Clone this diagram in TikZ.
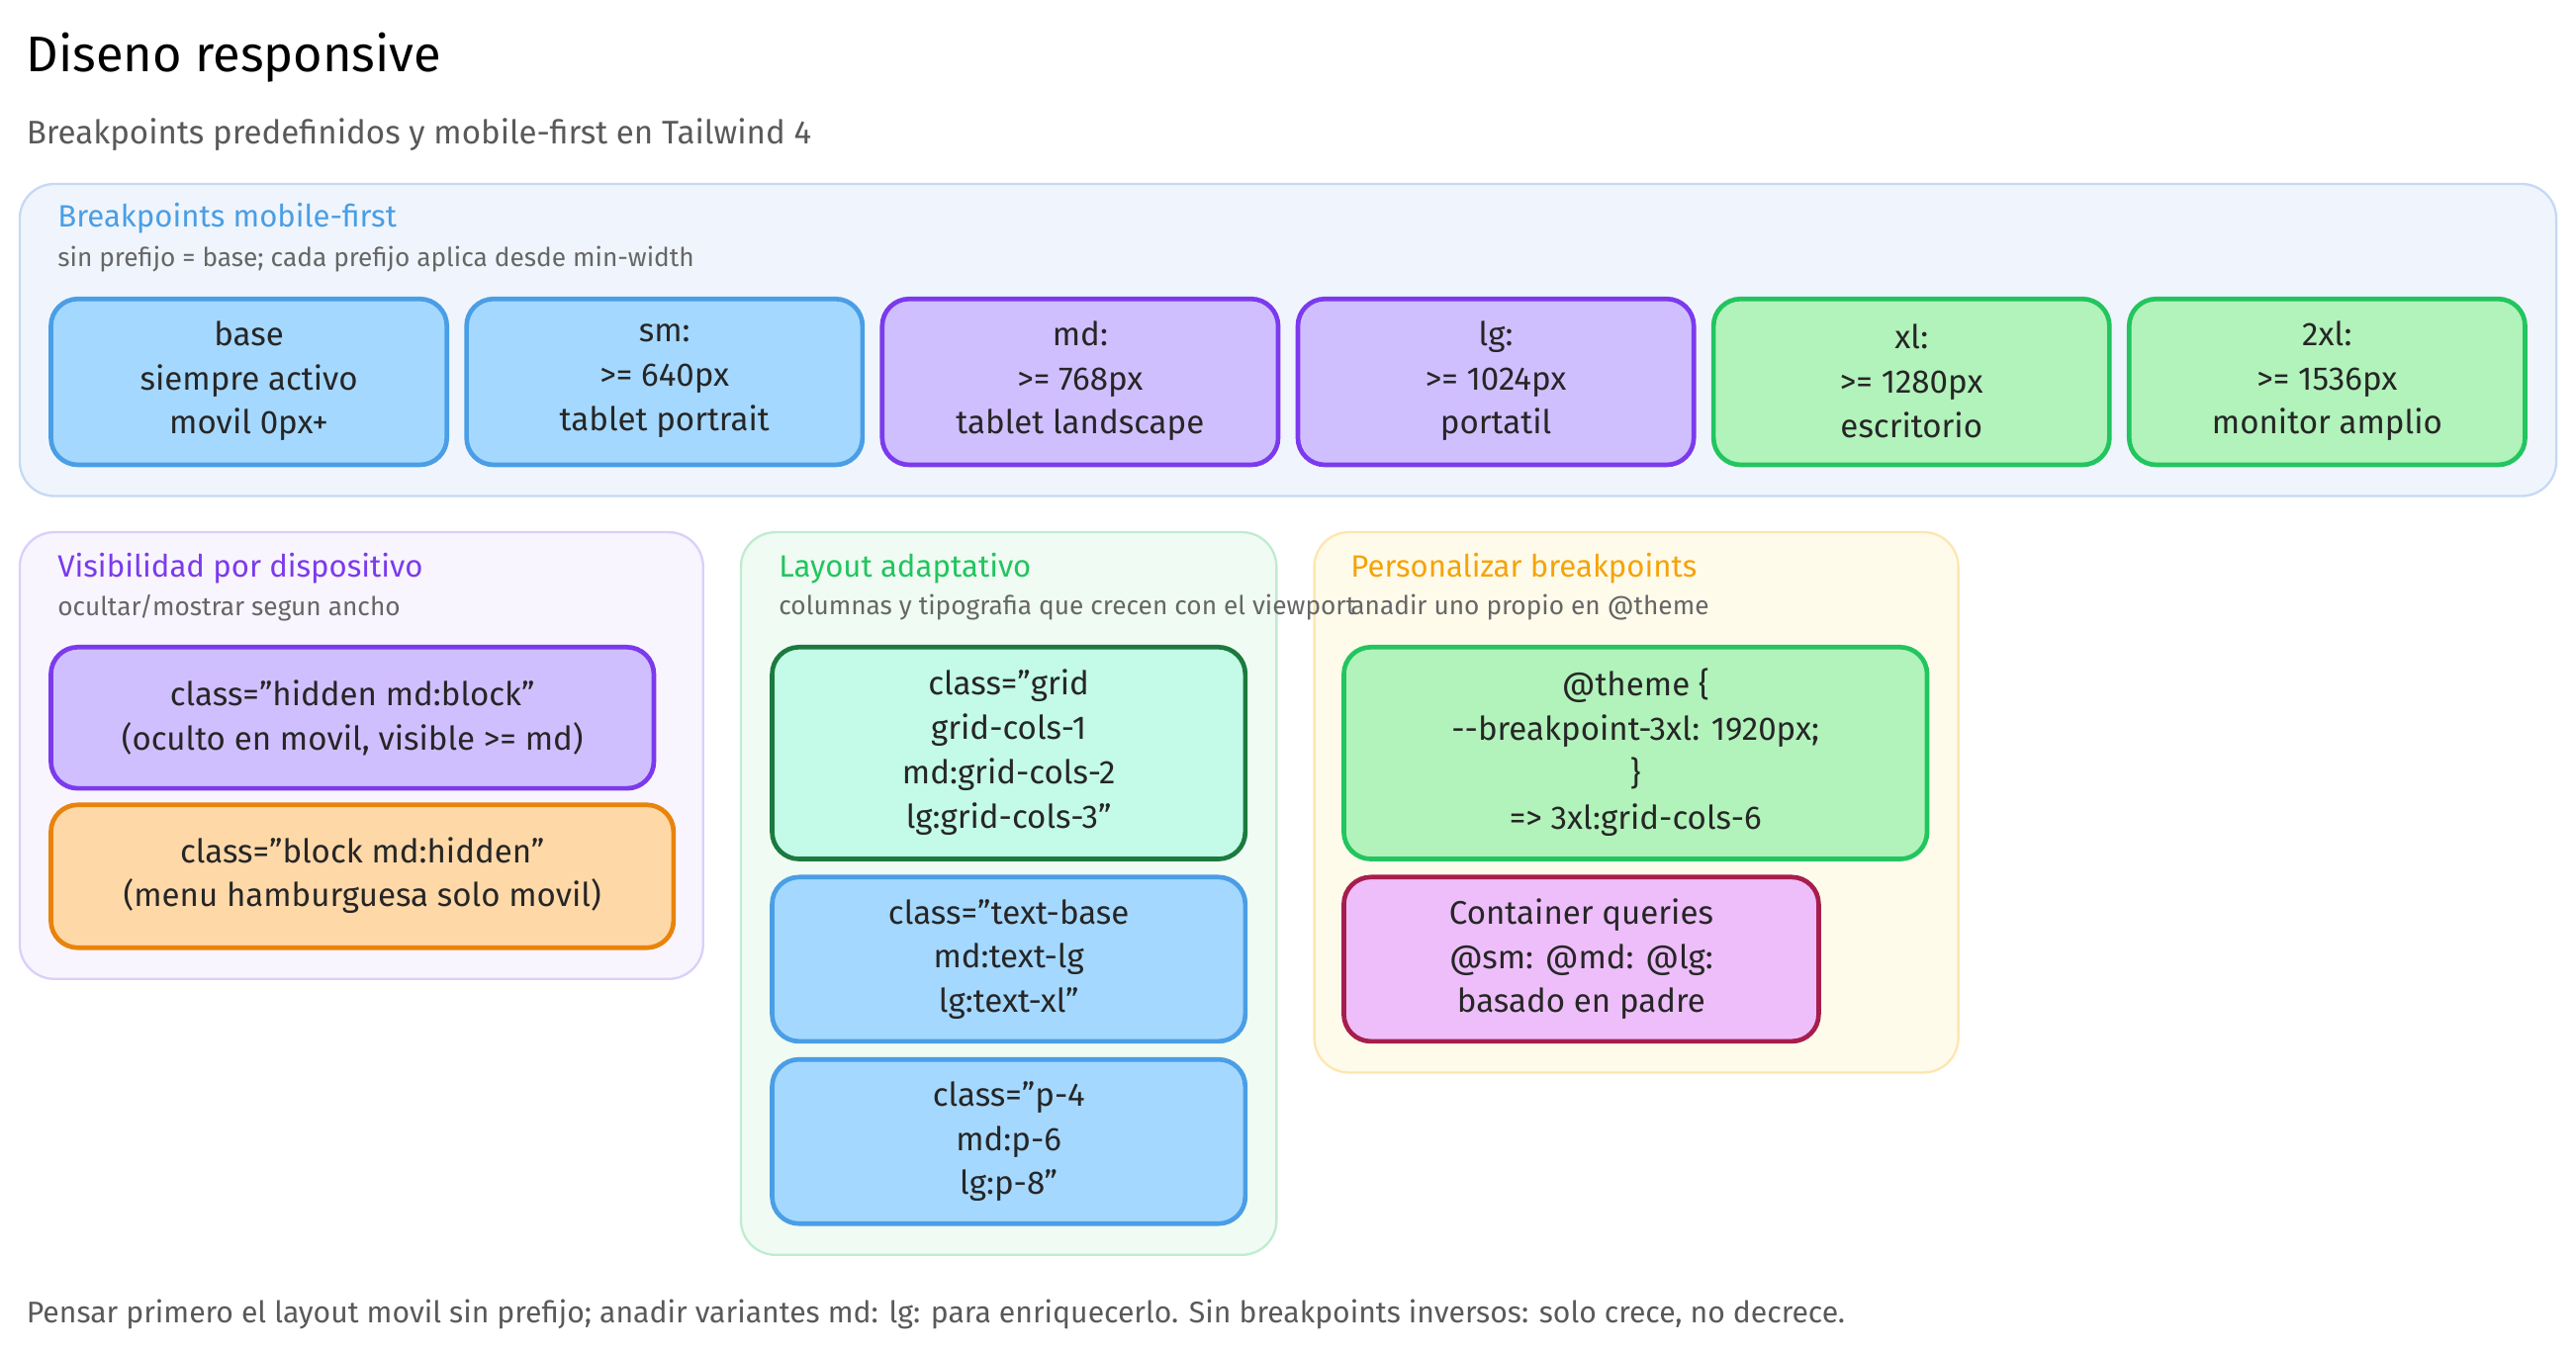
\documentclass[tikz,border=0pt]{standalone}
\usepackage{fontspec}
\setmainfont{Fira Sans}[Ligatures=ResetAll]
\newcommand\dq{\symbol{34}}
\definecolor{bF}{HTML}{A5D8FF}\definecolor{bS}{HTML}{4A9EE5}
\definecolor{vF}{HTML}{D0BFFF}\definecolor{vS}{HTML}{7C3AED}
\definecolor{gF}{HTML}{B2F2BB}\definecolor{gS}{HTML}{22C55E}
\definecolor{oF}{HTML}{FFD8A8}\definecolor{oS}{HTML}{E8830C}
\definecolor{tF}{HTML}{C3FAE8}\definecolor{tS}{HTML}{1B7A3E}
\definecolor{kF}{HTML}{EEBEFA}\definecolor{kS}{HTML}{A61E4D}
\definecolor{p1F}{HTML}{F0F5FD}\definecolor{p1S}{HTML}{C5D9F5}
\definecolor{p2F}{HTML}{F8F5FE}\definecolor{p2S}{HTML}{DCCFFA}
\definecolor{p3F}{HTML}{F0FBF3}\definecolor{p3S}{HTML}{C0ECD0}
\definecolor{p4F}{HTML}{FFFBEB}\definecolor{p4S}{HTML}{FDE7B0}
\definecolor{p4T}{HTML}{F5A30A}
\begin{document}
\begin{tikzpicture}[x=0.03cm,y=-0.03cm,
 panel/.style={line width=1.2pt,rounded corners=18pt},
 box/.style={line width=2.4pt,rounded corners=14pt},
 bt/.style={align=center,font=\fontsize{17}{23}\selectfont,text=black!85},
 pt/.style={anchor=west,font=\fontsize{16}{18}\selectfont},
 ps/.style={anchor=west,font=\fontsize{13.5}{15}\selectfont,text=black!60}]
\useasboundingbox (0,0) rectangle (1568,823);
\node[anchor=west,font=\fontsize{26}{30}\selectfont] (title) at (12,35) {Diseno responsive};
\node[anchor=west,font=\fontsize{17}{20}\selectfont,text=black!65] (sub) at (12,82) {Breakpoints predefinidos y mobile-first en Tailwind 4};
% panel 1
\filldraw[panel,fill=p1F,draw=p1S] (12,112) rectangle (1556,302);
\node[pt,text=bS] (p1t) at (31,133) {Breakpoints mobile-first};
\node[ps] (p1s) at (31,158) {sin prefijo = base; cada prefijo aplica desde min-width};
\foreach \x/\f/\s/\t [count=\i] in {31/bF/bS/{base\\siempre activo\\movil 0px+},284/bF/bS/{sm:\\>= 640px\\tablet portrait},537/vF/vS/{md:\\>= 768px\\tablet landscape},790/vF/vS/{lg:\\>= 1024px\\portatil},1043/gF/gS/{xl:\\>= 1280px\\escritorio},1296/gF/gS/{2xl:\\>= 1536px\\monitor amplio}}{
 \filldraw[box,fill=\f,draw=\s] (\x,182) rectangle ++(241,101);
 \node[bt] (bp\i) at (\x+120.5,232) {\t};}
% panel 2
\filldraw[panel,fill=p2F,draw=p2S] (12,324) rectangle (428,596);
\node[pt,text=vS] (p2t) at (31,346) {Visibilidad por dispositivo};
\node[ps] (p2s) at (31,370) {ocultar/mostrar segun ancho};
\filldraw[box,fill=vF,draw=vS] (31,394) rectangle (398,480);
\node[bt] (v1) at (214.5,437) {class=\dq hidden md:block\dq\\(oculto en movil, visible >= md)};
\filldraw[box,fill=oF,draw=oS] (31,490) rectangle (410,577);
\node[bt] (v2) at (220.5,533) {class=\dq block md:hidden\dq\\(menu hamburguesa solo movil)};
% panel 3
\filldraw[panel,fill=p3F,draw=p3S] (451,324) rectangle (777,764);
\node[pt,text=gS] (p3t) at (470,346) {Layout adaptativo};
% panel 4
\filldraw[panel,fill=p4F,draw=p4S] (800,324) rectangle (1192,653);
\node[pt,text=p4T] (p4t) at (818,346) {Personalizar breakpoints};
\node[ps] (p3s) at (470,370) {columnas y tipografia que crecen con el viewport};
\node[ps] (p4s) at (818,370) {anadir uno propio en @theme};
\filldraw[box,fill=tF,draw=tS] (470,394) rectangle (758,523);
\node[bt] (l1) at (614,458) {class=\dq grid\\grid-cols-1\\md:grid-cols-2\\lg:grid-cols-3\dq};
\filldraw[box,fill=bF,draw=bS] (470,534) rectangle (758,634);
\node[bt] (l2) at (614,584) {class=\dq text-base\\md:text-lg\\lg:text-xl\dq};
\filldraw[box,fill=bF,draw=bS] (470,645) rectangle (758,745);
\node[bt] (l3) at (614,695) {class=\dq p-4\\md:p-6\\lg:p-8\dq};
\filldraw[box,fill=gF,draw=gS] (818,394) rectangle (1173,523);
\node[bt] (c1) at (995.5,458) {@theme \{\\-{}-breakpoint-3xl: 1920px;\\\}\\=> 3xl:grid-cols-6};
\filldraw[box,fill=kF,draw=kS] (818,534) rectangle (1107,634);
\node[bt] (c2) at (962.5,584) {Container queries\\@sm: @md: @lg:\\basado en padre};
\node[anchor=west,font=\fontsize{15.5}{18}\selectfont,text=black!65] (foot) at (12,800) {Pensar primero el layout movil sin prefijo; anadir variantes md: lg: para enriquecerlo. Sin breakpoints inversos: solo crece, no decrece.};
\end{tikzpicture}
\end{document}
